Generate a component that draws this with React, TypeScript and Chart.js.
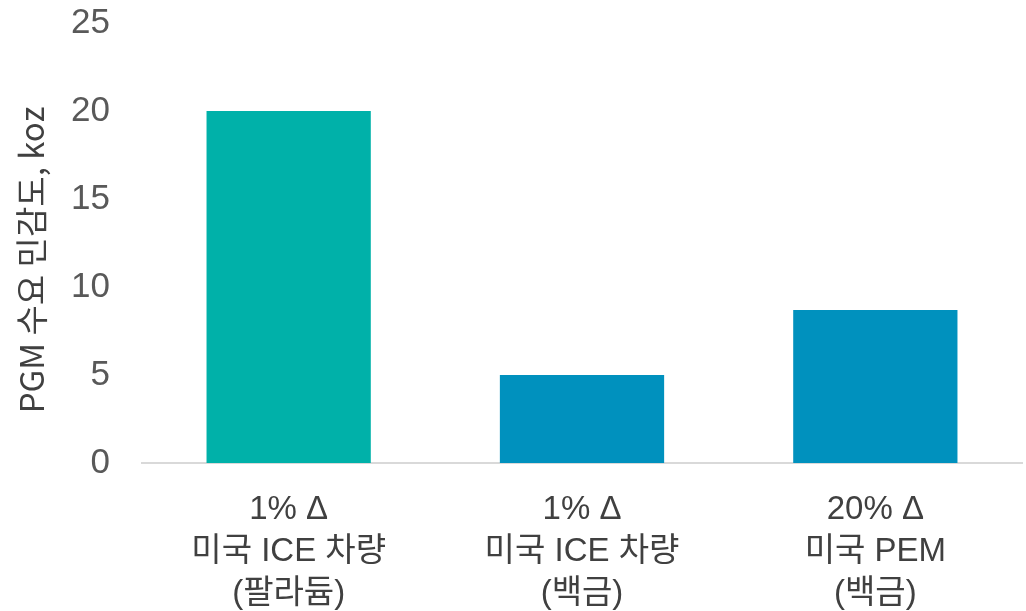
import React, { useEffect, useRef } from "react";
import { Chart, registerables } from "chart.js";

Chart.register(...registerables);

const categories: string[][] = [
  ["1% Δ", "미국 ICE 차량", "(팔라듐)"],
  ["1% Δ", "미국 ICE 차량", "(백금)"],
  ["20% Δ", "미국 PEM", "(백금)"],
];
const sensitivity: number[] = [20, 5, 8.7];
const barColors: string[] = ["#00B1A9", "#0091BE", "#0091BE"];
const yTicks: number[] = [0, 5, 10, 15, 20, 25];
const yTitle = "PGM 수요 민감도, koz";

const yTitlePlugin = {
  id: "yTitlePlugin",
  afterDraw(chart: any) {
    const ctx = chart.ctx as CanvasRenderingContext2D;
    const area = chart.chartArea;
    ctx.save();
    ctx.translate(31, (area.top + area.bottom) / 2 + 17);
    ctx.rotate(-Math.PI / 2);
    ctx.font = '33px "Noto Sans CJK KR"';
    ctx.fillStyle = "#404040";
    ctx.textAlign = "center";
    ctx.textBaseline = "middle";
    ctx.fillText(yTitle, 0, 0);
    ctx.restore();
  },
};

export default function App() {
  const ref = useRef<HTMLCanvasElement | null>(null);

  useEffect(() => {
    document.body.style.margin = "0";
    const canvas = ref.current;
    if (!canvas) return;
    const chart = new Chart(canvas, {
      type: "bar",
      data: {
        labels: categories,
        datasets: [
          {
            data: sensitivity,
            backgroundColor: barColors,
            borderWidth: 0,
            categoryPercentage: 1,
            barPercentage: 0.56,
          },
        ],
      },
      plugins: [yTitlePlugin],
      options: {
        animation: false,
        responsive: false,
        layout: { padding: { top: 23, right: 4, left: 0, bottom: 0 } },
        plugins: { legend: { display: false }, tooltip: { enabled: false } },
        scales: {
          x: {
            grid: { display: false, drawTicks: false },
            border: { display: true, color: "#D9D9D9", width: 2 },
            ticks: {
              color: "#404040",
              font: { family: '"Liberation Sans", "Noto Sans CJK KR", sans-serif', size: 33, lineHeight: 42 / 33 },
              padding: 26,
              maxRotation: 0,
              autoSkip: false,
            },
            afterFit: (s: any) => {
              s.height = 148;
              s.paddingLeft = 0;
              s.paddingRight = 0;
            },
          },
          y: {
            min: 0,
            max: 25,
            afterBuildTicks: (s: any) => {
              s.ticks = yTicks.map((v) => ({ value: v }));
            },
            grid: { display: false, drawTicks: false },
            border: { display: false },
            ticks: {
              color: "#595959",
              font: { family: '"Liberation Sans", Arial, sans-serif', size: 35 },
              padding: 32,
            },
            title: { display: false },
            afterFit: (s: any) => {
              s.width = 142;
              s.paddingTop = 0;
              s.paddingBottom = 0;
            },
          },
        },
      },
    });
    return () => chart.destroy();
  }, []);

  return (
    <div style={{ width: 1026, height: 611 }}>
      <canvas ref={ref} width={1026} height={611} style={{ display: "block" }} />
    </div>
  );
}
